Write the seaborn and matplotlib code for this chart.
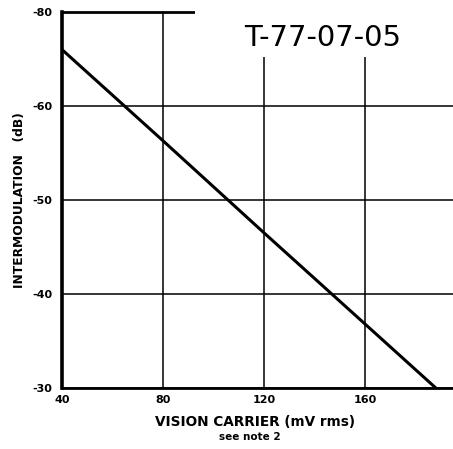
import matplotlib
matplotlib.use("Agg")
import matplotlib.pyplot as plt
import matplotlib.patches as mpatches
import seaborn as sns
import pandas as pd

# Data
carrier_mv = [40, 80, 120, 160, 188]
intermod_db = [-66.0, -56.3, -46.5, -36.8, -30.0]
x_ticks = [40, 80, 120, 160]
x_tick_labels = ["40", "80", "120", "160"]
y_ticks = [-70, -60, -50, -40, -30]
y_tick_labels = ["-80", "-60", "-50", "-40", "-30"]
stamp_text = "T-77-07-05"

sns.set_theme(style="white")
plt.rcParams['font.family'] = ['DejaVu Sans']
plt.rcParams['text.color'] = 'black'

df = pd.DataFrame({"carrier": carrier_mv, "intermod": intermod_db})

fig = plt.figure(figsize=(4.53, 4.49), dpi=100)
ax = fig.add_axes([62/453, 1-388/449, 1-62/453, (388-12)/449])

sns.lineplot(data=df, x="carrier", y="intermod", ax=ax, color="black",
             linewidth=2.2, zorder=5)

ax.set_xlim(40, 194.8)
ax.set_ylim(-30, -70)
ax.set_xticks(x_ticks)
ax.set_xticklabels(x_tick_labels, fontsize=8, fontweight="bold")
ax.set_yticks(y_ticks)
ax.set_yticklabels(y_tick_labels, fontsize=8, fontweight="bold")
ax.tick_params(axis="x", length=0, pad=5, colors="black")
ax.tick_params(axis="y", length=0, pad=7, colors="black")
ax.grid(True, color="black", linewidth=1.1)
ax.set_axisbelow(True)

for side in ["left", "bottom", "top"]:
    ax.spines[side].set_visible(True)
    ax.spines[side].set_color("black")
ax.spines["left"].set_linewidth(2.6)
ax.spines["bottom"].set_linewidth(2.0)
ax.spines["top"].set_linewidth(2.0)
ax.spines["right"].set_visible(False)

# white stamp area covering part of the top border and gridlines
rect = mpatches.Rectangle((0.34, 0.88), 0.7, 0.2, transform=ax.transAxes,
                          facecolor="white", edgecolor="none", zorder=6,
                          clip_on=False)
ax.add_patch(rect)
ax.text((323-62)/391, 1-(38-12)/376, stamp_text, transform=ax.transAxes,
        ha="center", va="center", fontsize=21, color="black", zorder=7,
        fontweight="medium")

ax.set_xlabel("")
ax.set_ylabel("")
fig.text(20/453, 1-200/449, "INTERMODULATION   (dB)", rotation=90,
         ha="center", va="center", fontsize=8.8, fontweight="bold",
         color="black")
fig.text(255/453, 1-422/449, "VISION CARRIER (mV rms)", ha="center",
         va="center", fontsize=9.8, fontweight="bold", color="black")
fig.text(250/453, 1-437/449, "see note 2", ha="center", va="center",
         fontsize=7.5, fontweight="bold", color="black")

fig.savefig("out.png", dpi=100)
